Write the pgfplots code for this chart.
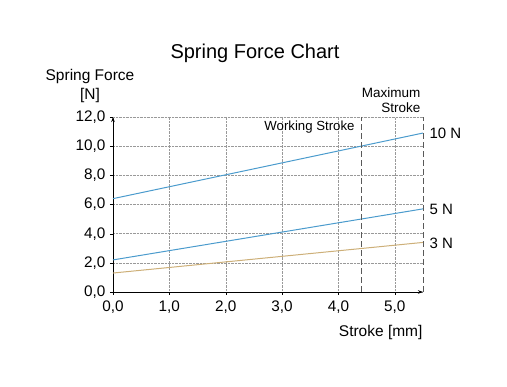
\documentclass[border=0pt]{standalone}
\usepackage{pgfplots}
\pgfplotsset{compat=1.18}
\usepackage{fontspec}
\setmainfont{Liberation Sans}
\usetikzlibrary{arrows.meta}
\definecolor{lblue}{RGB}{75,155,205}
\definecolor{ltan}{RGB}{205,175,120}
\begin{document}
\begin{tikzpicture}
\begin{axis}[
  at={(0pt,0pt)}, anchor=south west,
  scale only axis, width=310pt, height=175pt,
  xmin=0, xmax=5.5, ymin=0, ymax=12,
  xtick={0,1,2,3,4,5}, ytick={0,2,4,6,8,10,12},
  axis lines=left,
  clip=false,
  axis line style={black, line width=0.6pt, -{Stealth[length=5pt,width=3.5pt]}},
  grid=major,
  grid style={gray!80, densely dotted},
  tick align=outside, major tick length=3pt,
  tick style={black},
  xticklabel style={font=\fontsize{15.3}{17}\selectfont, yshift=-2pt},
  yticklabel style={font=\fontsize{15.3}{17}\selectfont, xshift=-1pt},
  /pgf/number format/.cd, fixed, fixed zerofill, precision=1, use comma, assume math mode=true,
]
\addplot[gray!80, densely dotted] coordinates {(0,12) (5.5,12)};
\addplot[lblue, line width=1pt] coordinates {(0,6.4) (5.5,10.9)};
\addplot[lblue, line width=1pt] coordinates {(0,2.2) (5.5,5.7)};
\addplot[ltan, line width=1pt] coordinates {(0,1.3) (5.5,3.4)};
\addplot[black!65, dash pattern=on 6pt off 3pt, line width=0.9pt] coordinates {(4.4,0) (4.4,12)};
\addplot[black!65, dash pattern=on 6pt off 3pt, line width=0.9pt] coordinates {(5.5,0) (5.5,12)};
\end{axis}
\useasboundingbox (-113pt,-95pt) rectangle (394pt,292pt);
\begin{scope}[shift={(-113pt,-95pt)}]
\node[font=\fontsize{20}{24}\selectfont] at (255pt,334pt) {Spring Force Chart};
\node[font=\fontsize{15.5}{20}\selectfont, align=center] at (90pt,301pt) {Spring Force\\{[N]}};
\node[font=\fontsize{13.5}{15}\selectfont, align=right, anchor=east] at (424pt,287pt) {Maximum\\Stroke};
\node[font=\fontsize{13.2}{15}\selectfont, anchor=east] at (358pt,260pt) {Working Stroke};
\node[font=\fontsize{15}{16}\selectfont, anchor=west] at (426pt,254pt) {10 N};
\node[font=\fontsize{15}{16}\selectfont, anchor=west] at (426pt,178pt) {5 N};
\node[font=\fontsize{15}{16}\selectfont, anchor=west] at (426pt,144pt) {3 N};
\node[font=\fontsize{15.5}{17}\selectfont, anchor=east] at (426pt,55pt) {Stroke [mm]};
\end{scope}
\end{tikzpicture}
\end{document}
